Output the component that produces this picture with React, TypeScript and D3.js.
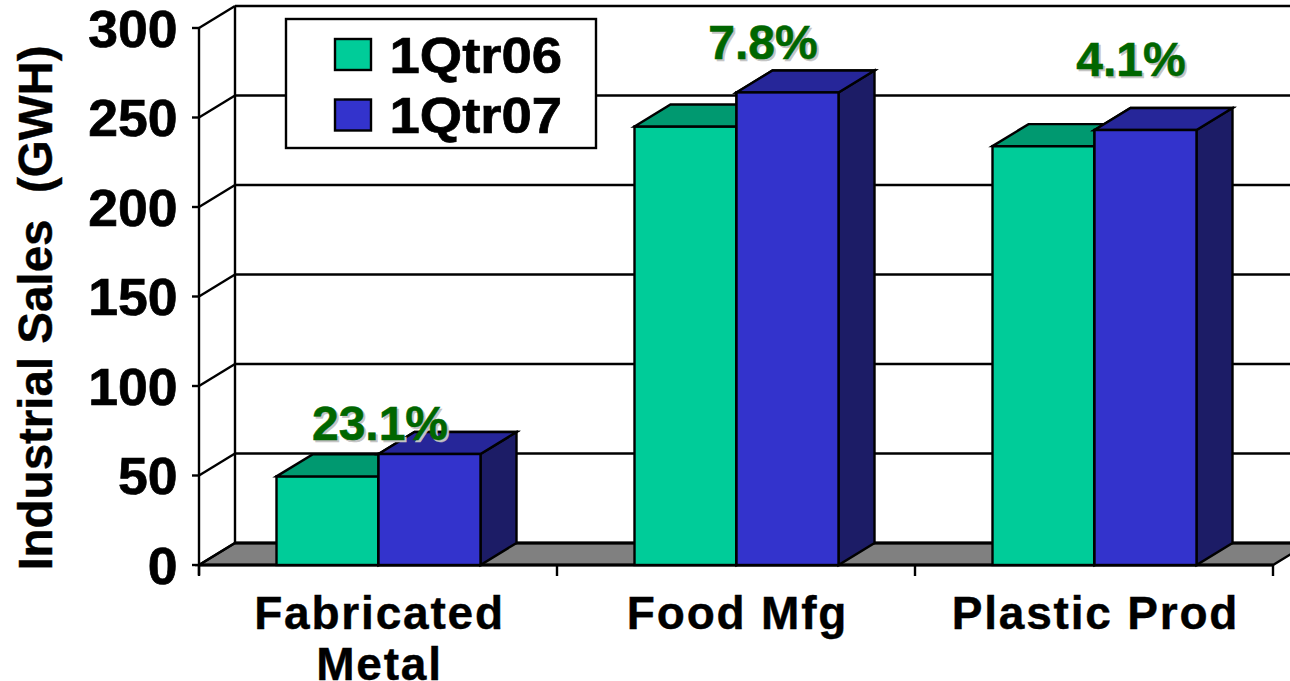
import React from "react";
import * as d3 from "d3";

const categories = ["Fabricated Metal", "Food Mfg", "Plastic Prod"];
const categoryLines = [["Fabricated", "Metal"], ["Food Mfg"], ["Plastic Prod"]];
const seriesNames = ["1Qtr06", "1Qtr07"];
const values06 = [49.5, 245, 234];
const values07 = [62, 264, 243];
const growth = ["23.1%", "7.8%", "4.1%"];
const growthAnchor = [380, 763, 1131];
const growthBase = [440, 59, 76];
const yTicks = [0, 50, 100, 150, 200, 250, 300];

const font = "'Liberation Sans', Arial, sans-serif";
const colors = [
  { front: "#00CC99", top: "#009970", side: "#007a5a" },
  { front: "#3333CC", top: "#262699", side: "#1C1C66" },
];
const dx = 36;
const dy = -22;

export default function App() {
  const y = d3.scaleLinear().domain([0, 300]).range([565, 28]);
  const x = d3.scaleBand<string>().domain(categories).range([199, 1273]);
  const right = x.range()[1];
  const left = x.range()[0];
  const barW = 102;
  const center = (c: string) => (x(c) as number) + x.bandwidth() / 2 + 0.5;
  const poly = (p: number[][]) => p.map((q) => q.join(",")).join(" ");
  const sw = 2.4;
  return (
    <svg width={1290} height={681} style={{ position: "absolute", left: 0, top: 0, display: "block" }} fontFamily={font} fontWeight="bold">
      <polygon points={poly([[left, 565], [left + dx, 565 + dy], [right + dx, 565 + dy], [right, 565]])} fill="#808080" stroke="#000" strokeWidth={sw} />
      <line x1={left + dx} x2={left + dx} y1={y(300) + dy} y2={y(0) + dy} stroke="#000" strokeWidth={sw} />
      <line x1={left} x2={left} y1={y(300)} y2={y(0) + 10} stroke="#000" strokeWidth={sw} />
      {yTicks.map((t) => (
        <g key={t}>
          <line x1={left + dx} x2={right + dx} y1={y(t) + dy} y2={y(t) + dy} stroke="#000" strokeWidth={t === 0 ? 3 : sw} />
          <line x1={left} x2={left + dx} y1={y(t)} y2={y(t) + dy} stroke="#000" strokeWidth={sw} />
          <line x1={left - 7} x2={left} y1={y(t)} y2={y(t)} stroke="#000" strokeWidth={sw} />
          <text transform={`translate(177.5,${y(t) + 18.5}) scale(1.05,1)`} textAnchor="end" fontSize={51} stroke="#000" strokeWidth={0.7} fill="#000">{t}</text>
        </g>
      ))}
      <line x1={left} x2={right} y1={565} y2={565} stroke="#000" strokeWidth={3} />
      {x.domain().concat("__end").map((c) => {
        const px = c === "__end" ? right : (x(c) as number);
        return <line key={c} x1={px} x2={px} y1={565} y2={576} stroke="#000" strokeWidth={sw} />;
      })}
      {categories.map((c, i) => {
        const cx = center(c);
        return [values06[i], values07[i]].map((v, s) => {
          const x0 = cx - barW + s * barW;
          const x1 = x0 + barW;
          const top = y(v);
          const col = colors[s];
          return (
            <g key={c + s} stroke="#000" strokeWidth={sw} strokeLinejoin="miter">
              <rect x={x0} y={top} width={barW} height={565 - top} fill={col.front} />
              <polygon points={poly([[x0, top], [x0 + dx, top + dy], [x1 + dx, top + dy], [x1, top]])} fill={col.top} />
              <polygon points={poly([[x1, top], [x1 + dx, top + dy], [x1 + dx, 565 + dy], [x1, 565]])} fill={col.side} />
            </g>
          );
        });
      })}
      {categories.map((c, i) => {
        const cx = center(c);
        const top = y(values07[i]);
        const col = colors[1];
        return (
          <g key={c} stroke="#000" strokeWidth={sw}>
            <polygon points={poly([[cx, top], [cx + dx, top + dy], [cx + barW + dx, top + dy], [cx + barW, top]])} fill={col.top} />
            <rect x={cx} y={top} width={barW} height={565 - top} fill={col.front} />
          </g>
        );
      })}
      {growth.map((g, i) => (
        <g key={g} fontSize={48} textAnchor="middle">
          <text x={growthAnchor[i] + 2} y={growthBase[i] + 2} fill="#c4c4c4" stroke="#c4c4c4" strokeWidth={0.6}>{g}</text>
          <text x={growthAnchor[i]} y={growthBase[i]} fill="#006600" stroke="#006600" strokeWidth={0.6}>{g}</text>
        </g>
      ))}
      <rect x={286} y={19} width={310} height={129} fill="#fff" stroke="#000" strokeWidth={sw} />
      {seriesNames.map((n, i) => (
        <g key={n}>
          <rect x={335} y={39 + i * 60.5} width={36} height={31} fill={colors[i].front} stroke="#000" strokeWidth={sw} />
          <text transform={`translate(389.5,${72.5 + i * 60.5}) scale(1.09,1)`} fontSize={50} stroke="#000" strokeWidth={0.7} fill="#000">{n}</text>
        </g>
      ))}
      {categories.map((c, i) => {
        const cx = center(c);
        return categoryLines[i].map((l, j) => (
          <text key={l} x={cx + 1} y={629 + j * 51} textAnchor="middle" fontSize={46} fill="#000" stroke="#000" strokeWidth={0.4} style={{ letterSpacing: "1.8px" }}>{l}</text>
        ));
      })}
      <text transform="translate(52,308) rotate(-90)" textAnchor="middle" fontSize={47.5} fill="#000" stroke="#000" strokeWidth={0.4} xmlSpace="preserve">Industrial Sales  (GWH)</text>
    </svg>
  );
}
